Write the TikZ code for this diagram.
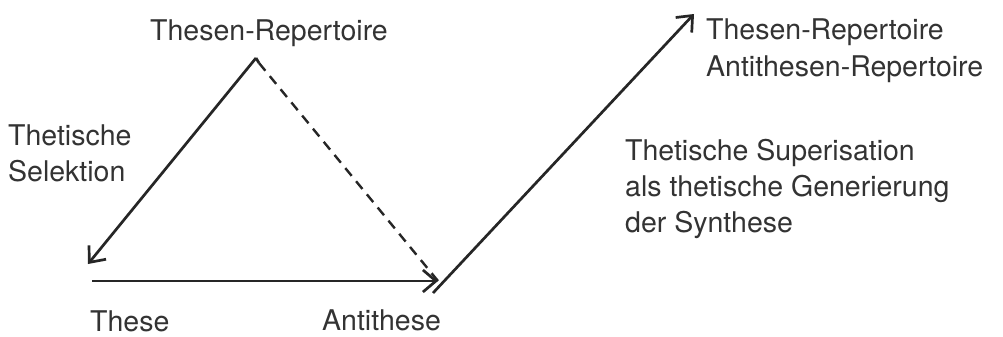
\documentclass[tikz,border=0pt]{standalone}
\usepackage{fontspec}
\setmainfont{TeX Gyre Heros}
\usetikzlibrary{arrows.meta}
\begin{document}
\begin{tikzpicture}[x=1pt,y=-1pt,
  lbl/.style={inner sep=0pt,text=black!80,font=\fontsize{28.5}{36}\selectfont},
  ln/.style={line width=2.7pt,draw=black!85},
  arr/.style={ln,-{Straight Barb[length=13pt,width=22pt,line width=2.7pt]}}]
\useasboundingbox (0,0) rectangle (1003,337);
\fill[white] (0,0) rectangle (1003,337);
\coordinate (apex) at (256,58);
\coordinate (hook) at (259,63);
\coordinate (these) at (88,264);
\coordinate (hstart) at (92,281);
\coordinate (anti) at (438,281);
\coordinate (dstart) at (433,293);
\coordinate (syn) at (694,14);
\node[lbl,anchor=base west] (tr) at (150,41) {Thesen-Repertoire};
\node[lbl,anchor=base west,align=left] (sel) at (8,181) {Thetische\\Selektion};
\node[lbl,anchor=base west] (th) at (90,331) {These};
\node[lbl,anchor=base west] (an) at (322,330) {Antithese};
\node[lbl,anchor=base west,align=left] (rep) at (706,76) {Thesen-Repertoire\\Antithesen-Repertoire};
\node[lbl,anchor=base west,align=left] (sup) at (625,232) {Thetische Superisation\\als thetische Generierung\\der Synthese};
\draw[arr] (apex) -- (these);
\draw[ln] (apex) -- (hook);
\draw[ln,line width=2.4pt,dash pattern=on 10pt off 7pt] (hook) -- (anti);
\draw[arr] (hstart) -- (anti);
\draw[arr] (dstart) -- (syn);
\end{tikzpicture}
\end{document}
